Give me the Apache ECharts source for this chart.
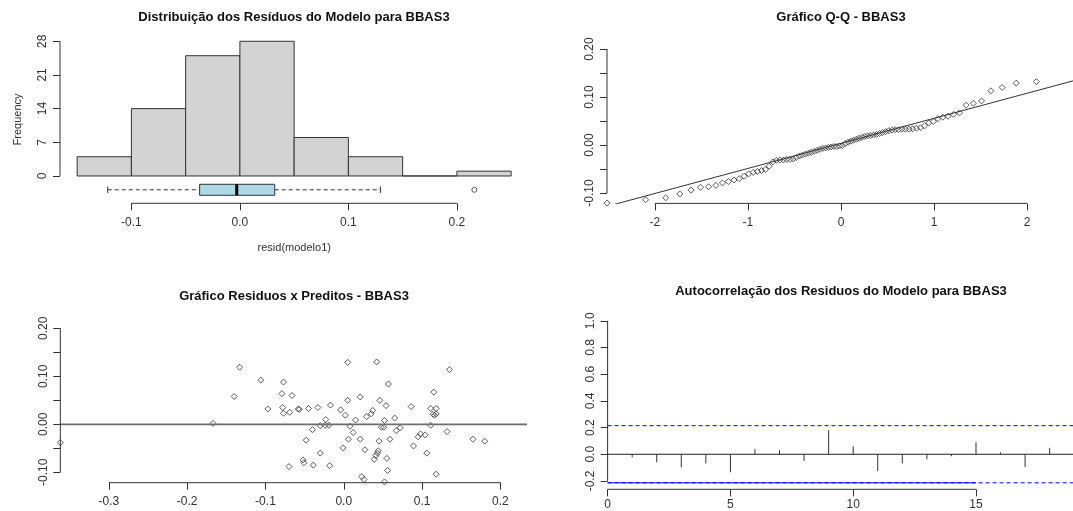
<!DOCTYPE html>
<html>
<head>
<meta charset="utf-8">
<script src="https://cdn.jsdelivr.net/npm/echarts@6/dist/echarts.min.js"></script>
<style>
html, body { margin: 0; padding: 0; background: #fff; }
#chart { width: 1073px; height: 511px; }
</style>
</head>
<body>
<div id="chart"></div>
<script>
// ---- Dados ----

// Histograma dos resíduos
var binsInicio = [-0.15, -0.1, -0.05, 0, 0.05, 0.1, 0.15, 0.2];
var binsFim = [-0.1, -0.05, 0, 0.05, 0.1, 0.15, 0.2, 0.25];
var frequencias = [4, 14, 25, 28, 8, 4, 0, 1];
// boxplot: min, Q1, mediana, Q3, max
var boxStats = [-0.1218, -0.0371, -0.0029, 0.0321, 0.1295];
var boxOutliers = [0.2161];

// Q-Q
var qqTeorico = [-2.515, -2.100, -1.884, -1.732, -1.611, -1.510, -1.423, -1.345, -1.274, -1.210,
    -1.150, -1.094, -1.041, -0.992, -0.944, -0.898, -0.854, -0.812, -0.771, -0.732,
    -0.693, -0.656, -0.619, -0.583, -0.549, -0.514, -0.481, -0.447, -0.415, -0.382,
    -0.350, -0.319, -0.287, -0.256, -0.226, -0.195, -0.165, -0.135, -0.105, -0.075,
    -0.045, -0.015, 0.015, 0.045, 0.075, 0.105, 0.135, 0.165, 0.195, 0.226,
    0.256, 0.287, 0.319, 0.350, 0.382, 0.415, 0.447, 0.481, 0.514, 0.549,
    0.583, 0.619, 0.656, 0.693, 0.732, 0.771, 0.812, 0.854, 0.898, 0.944,
    0.992, 1.041, 1.094, 1.150, 1.210, 1.274, 1.345, 1.423, 1.510, 1.611,
    1.732, 1.884, 2.100, 2.515];
var qqAmostra = [-0.121, -0.114, -0.110, -0.102, -0.094, -0.088, -0.087, -0.084, -0.079, -0.076,
    -0.073, -0.070, -0.065, -0.060, -0.057, -0.055, -0.053, -0.051, -0.044, -0.035,
    -0.032, -0.031, -0.031, -0.030, -0.030, -0.029, -0.026, -0.023, -0.021, -0.019,
    -0.017, -0.015, -0.013, -0.011, -0.009, -0.007, -0.006, -0.005, -0.004, -0.003,
    -0.003, -0.002, -0.001, 0.003, 0.006, 0.008, 0.010, 0.012, 0.014, 0.016,
    0.018, 0.019, 0.020, 0.021, 0.022, 0.024, 0.026, 0.028, 0.030, 0.031,
    0.032, 0.032, 0.033, 0.033, 0.033, 0.034, 0.035, 0.036, 0.040, 0.046,
    0.049, 0.055, 0.058, 0.060, 0.064, 0.067, 0.083, 0.087, 0.092, 0.113,
    0.120, 0.129, 0.132, 0.217];
var qqIntercepto = 0.0035;
var qqInclinacao = 0.0522;

// Resíduos x Preditos
var preditos = [-0.133, -0.106, -0.077, -0.140, -0.079, -0.066, -0.097, -0.078, -0.077, -0.069,
    -0.058, -0.057, -0.045, -0.033, -0.017, -0.004, 0.002, 0.005, 0.005, 0.021,
    0.015, 0.029, -0.167, -0.023, -0.030, -0.024, -0.019, -0.040, -0.048, -0.030,
    -0.052, -0.051, -0.070, -0.039, -0.018, 0.008, 0.012, 0.006, 0.021, -0.001,
    0.027, 0.023, 0.026, 0.042, 0.135, 0.057, 0.046, 0.054, 0.115, 0.086,
    0.111, 0.118, 0.114, 0.116, 0.118, 0.037, 0.035, 0.052, 0.048, 0.051,
    0.065, 0.067, 0.072, 0.111, 0.132, 0.045, 0.059, 0.095, 0.098, 0.104,
    0.089, 0.165, 0.180, 0.044, 0.043, 0.041, 0.039, 0.055, 0.106, 0.056,
    0.118, 0.052, -0.362, 0.234];
var residuos = [0.119, 0.092, 0.088, 0.058, 0.064, 0.060, 0.032, 0.035, 0.023, 0.025,
    0.032, 0.031, 0.033, 0.035, 0.040, 0.030, 0.019, 0.050, 0.129, 0.057,
    0.009, 0.016, 0.002, 0.010, -0.003, -0.002, -0.002, -0.011, -0.033, -0.060,
    -0.074, -0.080, -0.088, -0.085, -0.086, -0.004, -0.017, -0.031, -0.031, -0.049,
    -0.053, -0.109, -0.115, 0.130, 0.114, 0.084, 0.050, 0.039, 0.067, 0.037,
    0.033, 0.033, 0.021, 0.019, 0.022, 0.029, 0.022, 0.008, -0.006, -0.006,
    0.013, -0.013, -0.007, -0.002, -0.015, -0.035, -0.031, -0.026, -0.020, -0.022,
    -0.045, -0.031, -0.035, -0.055, -0.060, -0.065, -0.073, -0.071, -0.060, -0.096,
    -0.104, -0.120, -0.038, 0.217];

// Autocorrelação
var lags = [1, 2, 3, 4, 5, 6, 7, 8, 9, 10, 11, 12, 13, 14, 15, 16, 17, 18];
var acfValores = [-0.023, -0.060, -0.098, -0.068, -0.135, 0.038, 0.030, -0.050, 0.180,
    0.060, -0.125, -0.068, -0.038, -0.015, 0.090, 0.015, -0.095, 0.048];
var limiteIC = 0.214;

// Marcas dos eixos
var histTicksX = [-0.1, 0, 0.1, 0.2];
var histTicksY = [0, 7, 14, 21, 28];
var qqTicksX = [-2, -1, 0, 1, 2];
var residTicksY = [-0.1, -0.05, 0, 0.05, 0.1, 0.15, 0.2];
var residRotulosY = [-0.1, 0, 0.1, 0.2];
var predTicksX = [-0.3, -0.2, -0.1, 0, 0.1, 0.2];
var acfTicksX = [0, 5, 10, 15];
var acfTicksY = [-0.2, 0, 0.2, 0.4, 0.6, 0.8, 1.0];

// ---- Layout ----
var fonte = 'Liberation Sans, Arial, sans-serif';
var corEixo = '#333';

// limites das regiões (como no R)
var histX = [-0.1658, 0.266], histY = [-5.68, 29.2];
var qqX = [-2.515, 2.515], qqY = [-0.1216, 0.2165];
var rpX = [-0.362, 0.234], rpY = [-0.1216, 0.2165];
var acfX = [0, 19.5], acfY = [-0.2625, 1.0486];
var boxPosY = -2.87;

function eixo(tipo, gridIndex, lim, ticks, rotulos, casas, margem) {
    return {
        type: 'value',
        gridIndex: gridIndex,
        min: lim[0],
        max: lim[1],
        axisLine: { show: false, onZero: false },
        splitLine: { show: false },
        axisTick: { show: true, length: 7, customValues: ticks, lineStyle: { color: corEixo } },
        axisLabel: {
            show: true,
            customValues: rotulos,
            rotate: tipo === 'y' ? 90 : 0,
            margin: margem,
            color: corEixo,
            fontSize: 12,
            fontFamily: fonte,
            formatter: function (v) { return v.toFixed(casas); }
        }
    };
}

function linhaEixo(idx, pontos) {
    return {
        type: 'line', xAxisIndex: idx, yAxisIndex: idx, data: pontos,
        symbol: 'none', clip: false, silent: true, z: 3,
        lineStyle: { color: corEixo, width: 1 }
    };
}

function ultimo(a) { return a[a.length - 1]; }

var titulo = function (texto, x, y) {
    return {
        text: texto, left: x, top: y, textAlign: 'center', padding: 0,
        textStyle: { fontSize: 13, fontWeight: 'bold', color: '#111', fontFamily: fonte }
    };
};

var estiloPonto = { color: 'rgba(0,0,0,0)', borderColor: '#333', borderWidth: 1 };

var xAxes = [
    eixo('x', 0, histX, histTicksX, histTicksX, 1, 13),
    eixo('x', 1, qqX, qqTicksX, qqTicksX, 0, 13),
    eixo('x', 2, rpX, predTicksX, predTicksX, 1, 13),
    eixo('x', 3, acfX, acfTicksX, acfTicksX, 0, 9)
];
xAxes[0].name = 'resid(modelo1)';
xAxes[0].nameLocation = 'middle';
xAxes[0].nameGap = 39;
xAxes[0].nameTextStyle = { fontSize: 11, color: corEixo, fontFamily: fonte };

var yAxes = [
    eixo('y', 0, histY, histTicksY, histTicksY, 0, 11),
    eixo('y', 1, qqY, residTicksY, residRotulosY, 2, 11),
    eixo('y', 2, rpY, residTicksY, residRotulosY, 2, 11),
    eixo('y', 3, acfY, acfTicksY, acfTicksY, 1, 11)
];
yAxes[0].name = 'Frequency';
yAxes[0].nameLocation = 'middle';
yAxes[0].nameGap = 37;
yAxes[0].nameRotate = 90;
yAxes[0].nameTextStyle = { fontSize: 11, color: corEixo, fontFamily: fonte };

var histData = binsInicio.map(function (b, i) { return [b, binsFim[i], frequencias[i]]; });

var option = {
    animation: false,
    backgroundColor: '#fff',
    title: [
        titulo('Distribuição dos Resíduos do Modelo para BBAS3', 294, 11),
        titulo('Gráfico Q-Q - BBAS3', 841, 11),
        titulo('Gráfico Residuos x Preditos - BBAS3', 294, 290),
        titulo('Autocorrelação dos Residuos do Modelo para BBAS3', 841, 285)
    ],
    grid: [
        { left: 60, top: 35.5, width: 468.5, height: 167.8, outerBoundsMode: 'none' },
        { left: 607, top: 41.1, width: 468, height: 162.3, outerBoundsMode: 'none' },
        { left: 60.3, top: 320.4, width: 466.7, height: 162.3, outerBoundsMode: 'none' },
        { left: 607.6, top: 314.3, width: 478.9, height: 175, outerBoundsMode: 'none' }
    ],
    xAxis: xAxes,
    yAxis: yAxes,
    series: [
        // histograma
        {
            type: 'custom', xAxisIndex: 0, yAxisIndex: 0,
            data: histData,
            encode: { x: [0, 1], y: 2 },
            renderItem: function (params, api) {
                var p0 = api.coord([api.value(0), api.value(2)]);
                var p1 = api.coord([api.value(1), 0]);
                return {
                    type: 'rect',
                    shape: { x: p0[0], y: p0[1], width: p1[0] - p0[0], height: p1[1] - p0[1] },
                    style: { fill: '#d3d3d3', stroke: '#333', lineWidth: 1 }
                };
            }
        },
        // boxplot horizontal
        {
            type: 'custom', xAxisIndex: 0, yAxisIndex: 0,
            data: [boxStats],
            encode: { x: [0, 1, 2, 3, 4] },
            renderItem: function (params, api) {
                var c = [0, 1, 2, 3, 4].map(function (k) { return api.coord([api.value(k), boxPosY]); });
                var cy = c[2][1], h = 5.5, s = 3.3;
                var traco = { stroke: '#333', lineWidth: 1, lineDash: [4, 3] };
                var cheio = { stroke: '#333', lineWidth: 1 };
                return {
                    type: 'group',
                    children: [
                        { type: 'line', shape: { x1: c[0][0], y1: cy, x2: c[1][0], y2: cy }, style: traco },
                        { type: 'line', shape: { x1: c[3][0], y1: cy, x2: c[4][0], y2: cy }, style: traco },
                        { type: 'line', shape: { x1: c[0][0], y1: cy - s, x2: c[0][0], y2: cy + s }, style: cheio },
                        { type: 'line', shape: { x1: c[4][0], y1: cy - s, x2: c[4][0], y2: cy + s }, style: cheio },
                        { type: 'rect', shape: { x: c[1][0], y: cy - h, width: c[3][0] - c[1][0], height: 2 * h },
                          style: { fill: '#add8e6', stroke: '#333', lineWidth: 1 } },
                        { type: 'line', shape: { x1: c[2][0], y1: cy - h, x2: c[2][0], y2: cy + h },
                          style: { stroke: '#000', lineWidth: 3 } }
                    ]
                };
            }
        },
        {
            type: 'scatter', xAxisIndex: 0, yAxisIndex: 0,
            data: boxOutliers.map(function (v) { return [v, boxPosY]; }),
            symbol: 'circle', symbolSize: 5, itemStyle: estiloPonto
        },
        linhaEixo(0, [[histTicksX[0], histY[0]], [ultimo(histTicksX), histY[0]]]),
        linhaEixo(0, [[histX[0], histTicksY[0]], [histX[0], ultimo(histTicksY)]]),

        // Q-Q
        {
            type: 'scatter', xAxisIndex: 1, yAxisIndex: 1,
            data: qqTeorico.map(function (q, i) { return [q, qqAmostra[i]]; }),
            symbol: 'diamond', symbolSize: 6, itemStyle: estiloPonto
        },
        {
            type: 'line', xAxisIndex: 1, yAxisIndex: 1, symbol: 'none', clip: true, silent: true,
            data: [[-3, qqIntercepto - 3 * qqInclinacao], [3, qqIntercepto + 3 * qqInclinacao]],
            lineStyle: { color: '#333', width: 1 }
        },
        linhaEixo(1, [[qqTicksX[0], qqY[0]], [ultimo(qqTicksX), qqY[0]]]),
        linhaEixo(1, [[qqX[0], residTicksY[0]], [qqX[0], ultimo(residTicksY)]]),

        // Resíduos x Preditos
        {
            type: 'scatter', xAxisIndex: 2, yAxisIndex: 2,
            data: preditos.map(function (x, i) { return [x, residuos[i]]; }),
            symbol: 'diamond', symbolSize: 6, itemStyle: estiloPonto
        },
        {
            type: 'line', xAxisIndex: 2, yAxisIndex: 2, symbol: 'none', silent: true,
            data: [[rpX[0], 0], [rpX[1], 0]],
            lineStyle: { color: '#6e6e6e', width: 1.8 }
        },
        linhaEixo(2, [[predTicksX[0], rpY[0]], [ultimo(predTicksX), rpY[0]]]),
        linhaEixo(2, [[rpX[0], residTicksY[0]], [rpX[0], ultimo(residTicksY)]]),

        // ACF
        {
            type: 'custom', xAxisIndex: 3, yAxisIndex: 3,
            data: lags.map(function (l, i) { return [l, acfValores[i]]; }),
            encode: { x: 0, y: 1 },
            renderItem: function (params, api) {
                var a = api.coord([api.value(0), 0]);
                var b = api.coord([api.value(0), api.value(1)]);
                return { type: 'line', shape: { x1: a[0], y1: a[1], x2: b[0], y2: b[1] },
                         style: { stroke: '#333', lineWidth: 1 } };
            }
        },
        {
            type: 'line', xAxisIndex: 3, yAxisIndex: 3, symbol: 'none', silent: true,
            data: [[acfX[0], 0], [acfX[1], 0]],
            lineStyle: { color: '#222', width: 1 }
        },
        {
            type: 'line', xAxisIndex: 3, yAxisIndex: 3, symbol: 'none', silent: true,
            data: [[acfX[0], limiteIC], [acfX[1], limiteIC]],
            lineStyle: { color: '#0000ff', width: 1, type: [4, 3] }
        },
        {
            type: 'line', xAxisIndex: 3, yAxisIndex: 3, symbol: 'none', silent: true,
            data: [[acfX[0], -limiteIC], [acfX[1], -limiteIC]],
            lineStyle: { color: '#0000ff', width: 1, type: [4, 3] }
        },
        {
            type: 'line', xAxisIndex: 3, yAxisIndex: 3, symbol: 'none', silent: true,
            data: [[acfTicksX[0], -limiteIC], [ultimo(acfTicksX), -limiteIC]],
            lineStyle: { color: '#0000ff', width: 1 }
        },
        linhaEixo(3, [[acfTicksX[0], acfY[0]], [ultimo(acfTicksX), acfY[0]]]),
        linhaEixo(3, [[acfX[0], acfTicksY[0]], [acfX[0], ultimo(acfTicksY)]])
    ]
};

myChart = echarts.init(document.getElementById('chart'), null, { renderer: 'canvas' });
myChart.setOption(option);
</script>
</body>
</html>
